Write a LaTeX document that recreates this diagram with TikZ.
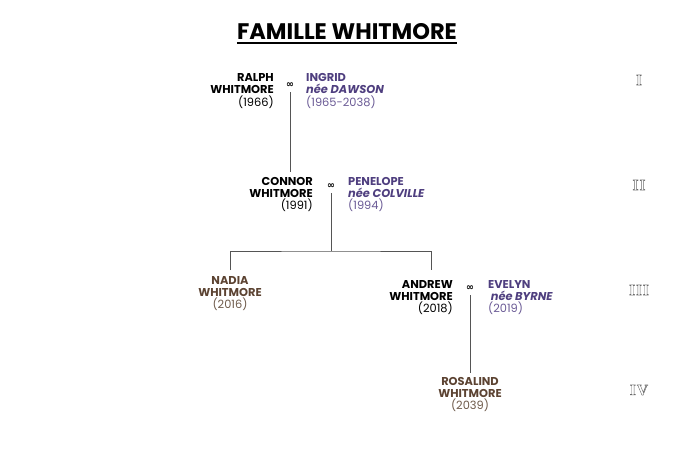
\documentclass[tikz,border=0pt]{standalone}
\usepackage{fontspec}
\setmainfont{Poppins}
\newfontfamily\symfont{DejaVu Sans}
\newfontfamily\romfont[LetterSpace=6]{Liberation Serif}
\definecolor{spouse}{HTML}{4F3F7F}
\definecolor{spouselight}{HTML}{6A5A95}
\definecolor{leaf}{HTML}{5C4332}
\definecolor{leaflight}{HTML}{6E5A4A}
\definecolor{linegray}{HTML}{555555}
\definecolor{romgray}{HTML}{6A6A6A}
\tikzset{
  pers/.style={inner sep=0pt, font=\fontsize{11.4}{12.2}\selectfont},
  persL/.style={pers, align=right, anchor=north east},
  persR/.style={pers, align=left, anchor=north west, text=spouse},
  persC/.style={pers, align=center, anchor=north, text=leaf},
  marr/.style={inner sep=0pt, font=\symfont\bfseries\fontsize{9.5}{10}\selectfont},
  link/.style={draw=linegray, line width=0.9pt},
  gen/.style={inner sep=0pt, text=romgray, font=\romfont\bfseries\fontsize{15.5}{16}\selectfont},
}
\newcommand{\outl}[1]{\special{pdf:code 1 Tr 0.45 w}#1\special{pdf:code 0 Tr}}
\begin{document}
\begin{tikzpicture}[x=1pt,y=-1pt]
\useasboundingbox (0,0) rectangle (700,450);
% title
\node[inner sep=0pt, anchor=base, font=\bfseries\fontsize{22.5}{26}\selectfont] (title) at (347,39.5) {FAMILLE WHITMORE};
\draw[line width=2pt] ([yshift=-3.5pt]title.base west) -- ([yshift=-3.5pt]title.base east);

% generation I
\node[persL] (ralph) at (274,73.5) {\textbf{RALPH}\\\textbf{WHITMORE}\\(1966)};
\node[marr] (m1) at (290,85.5) {∞};
\node[persR] (ingrid) at (306,73.5) {\textbf{INGRID}\\\textbf{\textit{née DAWSON}}\\{\color{spouselight}(1965-2038)}};

% generation II
\node[persL] (connor) at (313,177) {\textbf{CONNOR}\\\textbf{WHITMORE}\\(1991)};
\node[marr] (m2) at (331,186.5) {∞};
\node[persR] (penelope) at (348,177) {\textbf{PENELOPE}\\\textbf{\textit{née COLVILLE}}\\{\color{spouselight}(1994)}};

% generation III
\node[persC] (nadia) at (230,276) {\textbf{NADIA}\\\textbf{WHITMORE}\\{\color{leaflight}(2016)}};
\node[persL] (andrew) at (453,280) {\textbf{ANDREW}\\\textbf{WHITMORE}\\(2018)};
\node[marr] (m3) at (470,288.5) {∞};
\node[persR] (evelyn) at (488,280) {\textbf{EVELYN}\\\textbf{\textit{\ née BYRNE}}\\{\color{spouselight}(2019)}};

% generation IV
\node[persC] (rosalind) at (470,377) {\textbf{ROSALIND}\\\textbf{WHITMORE}\\{\color{leaflight}(2039)}};

% connectors
\coordinate (fork) at (331,251);
\coordinate (adrop) at (431,270);
\draw[link, shorten <=6.5pt, shorten >=5pt] (m1.center) -- (m1.center |- connor.north);
\draw[link, shorten <=6.5pt] (m2.center) -- (fork);
\draw[link] ([yshift=6pt]nadia.north) |- (fork) -| (adrop);
\draw[link, shorten <=6.5pt, shorten >=4pt] (m3.center) -- (m3.center |- rosalind.north);

% generation numerals
\node[gen] (g1) at (639,80) {\outl{I}};
\node[gen] (g2) at (639,185) {\outl{II}};
\node[gen] (g3) at (639,290) {\outl{III}};
\node[gen] (g4) at (639,390) {\outl{IV}};
\end{tikzpicture}
\end{document}
